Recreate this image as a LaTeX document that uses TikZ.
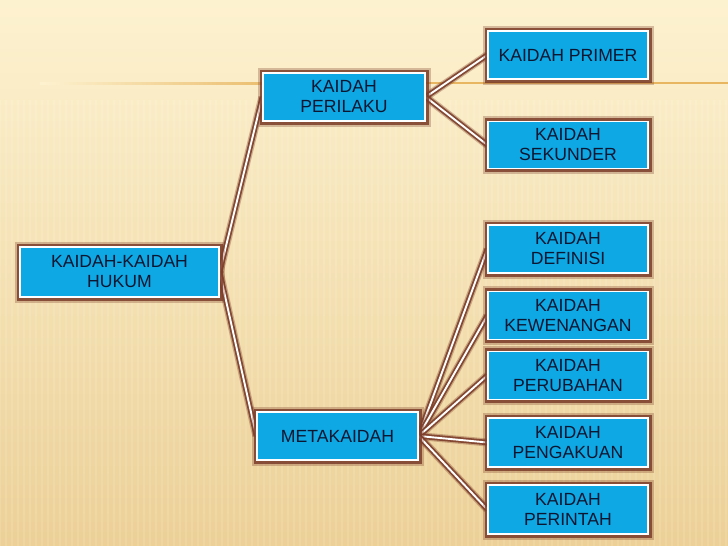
\documentclass[tikz,border=0pt]{standalone}
\usepackage{fontspec}
\setmainfont{Liberation Sans}
\usetikzlibrary{backgrounds}

\definecolor{boxblue}{RGB}{14,168,228}
\definecolor{rimbrown}{RGB}{125,62,42}
\definecolor{inktext}{RGB}{12,22,48}
\definecolor{bgtop}{RGB}{253,242,208}
\definecolor{bgmid}{RGB}{250,234,192}
\definecolor{bgbot}{RGB}{236,208,150}
\definecolor{rulec}{RGB}{232,182,96}

\pgfdeclarelayer{bg}
\pgfdeclarelayer{lines}
\pgfsetlayers{bg,lines,main}

\tikzset{
  kotak/.style={draw=white, line width=1.3pt, fill=boxblue, text=inktext,
    preaction={draw=rimbrown, line width=11pt, opacity=.3},
    preaction={draw=rimbrown, line width=7pt, opacity=.85},
    minimum width=160pt, minimum height=48pt, inner sep=2pt, align=center,
    font=\fontsize{17.6}{20}\selectfont},
  garis/.style={draw=white, line width=1.9pt,
    preaction={draw=rimbrown, line width=8pt, opacity=.35},
    preaction={draw=rimbrown, line width=5.5pt, opacity=.9}}
}

\begin{document}
\begin{tikzpicture}[x=1pt, y=-1pt]
	\useasboundingbox (0,0) rectangle (728,546);

	% nodes
	\node[kotak, minimum width=199pt, minimum height=50pt] (hukum) at (119.5,272) {KAIDAH-KAIDAH\\HUKUM};
	\node[kotak, minimum width=162pt] (perilaku) at (344,97) {KAIDAH\\PERILAKU};
	\node[kotak, minimum width=161pt] (meta) at (337.5,436) {METAKAIDAH};

	\node[kotak] (primer) at (568,55) {KAIDAH PRIMER};
	\node[kotak, minimum height=47pt] (sekunder) at (568,145) {KAIDAH\\SEKUNDER};
	\node[kotak] (definisi) at (568,249) {KAIDAH\\DEFINISI};
	\node[kotak] (wenang) at (568,315.5) {KAIDAH\\KEWENANGAN};
	\node[kotak] (ubah) at (568,375.5) {KAIDAH\\PERUBAHAN};
	\node[kotak, minimum height=49pt] (akui) at (568,442.5) {KAIDAH\\PENGAKUAN};
	\node[kotak, minimum height=49pt] (perintah) at (568,509.5) {KAIDAH\\PERINTAH};

	% connectors
	\begin{pgfonlayer}{lines}
		\draw[garis] (hukum.east) -- (perilaku.west);
		\draw[garis] (hukum.east) -- (meta.west);
		\draw[garis] (perilaku.east) -- (primer.west);
		\draw[garis] (perilaku.east) -- (sekunder.west);
		\foreach \t in {definisi,wenang,ubah,akui,perintah}
			\draw[garis] (meta.east) -- (\t.west);
	\end{pgfonlayer}

	% background
	\begin{pgfonlayer}{bg}
		\shade[top color=bgtop, middle color=bgmid, bottom color=bgbot] (0,0) rectangle (728,546);
		\foreach \x in {0,6,...,728}
			\draw[white, opacity=.12, line width=1.5pt] (\x,100) -- (\x,546);
		\shade[left color=bgtop, right color=rulec] (40,82) rectangle (300,84);
		\fill[rulec] (300,82) rectangle (728,84);
	\end{pgfonlayer}
\end{tikzpicture}
\end{document}
